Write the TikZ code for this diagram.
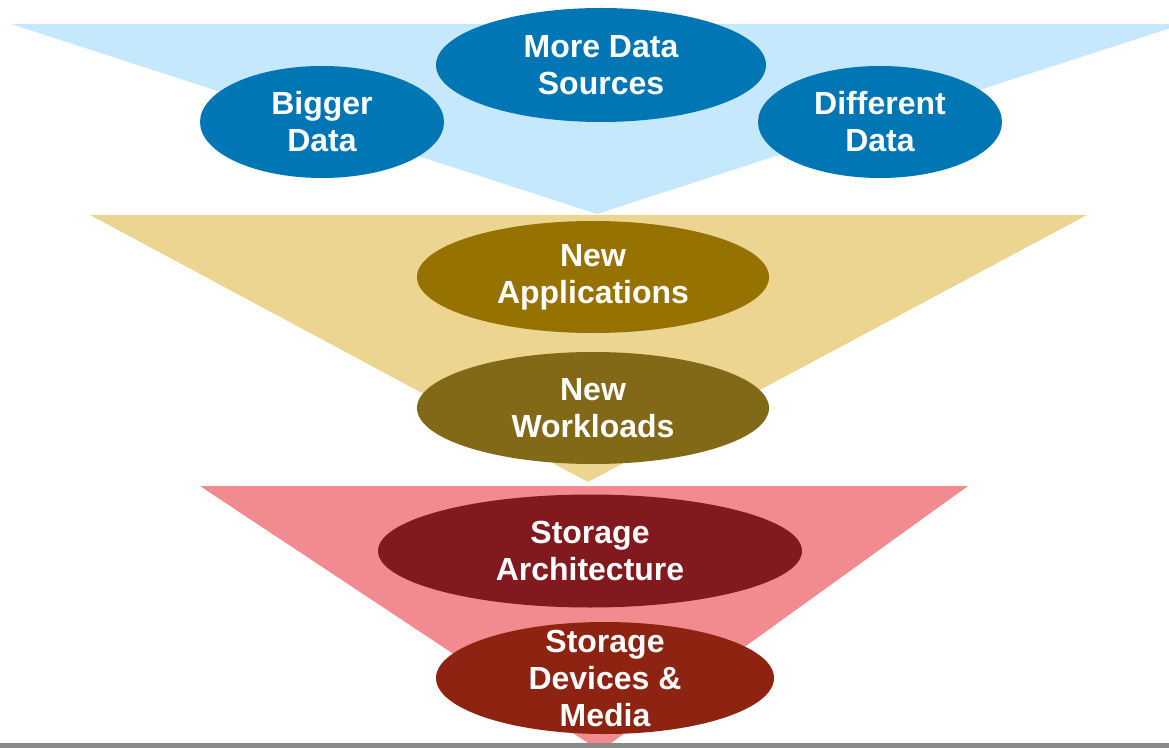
\documentclass[tikz,border=0pt]{standalone}
\usepackage{fontspec}
\setsansfont{Liberation Sans}
\usetikzlibrary{shapes.geometric}

\definecolor{skyfill}{HTML}{C5E8FC}
\definecolor{skyblob}{HTML}{0076B5}
\definecolor{sandfill}{HTML}{ECD591}
\definecolor{appblob}{HTML}{967300}
\definecolor{loadblob}{HTML}{816917}
\definecolor{rosefill}{HTML}{F28B8F}
\definecolor{archblob}{HTML}{82191E}
\definecolor{mediablob}{HTML}{8E2311}
\definecolor{floorgray}{HTML}{898989}

\begin{document}
\begin{tikzpicture}[x=0.75pt,y=-0.75pt,
    bubble/.style={ellipse,inner xsep=0pt,inner ysep=-14pt,text=white,align=center,
      font=\sffamily\bfseries\fontsize{24}{27.75}\selectfont}]
  \useasboundingbox (0,0) rectangle (1169,748);

  % data funnel
  \fill[skyfill] (11,24) -- (1183,24) -- (597,214) -- cycle;
  \node[bubble,fill=skyblob,minimum width=183pt,minimum height=84pt] (bigger) at (322,122) {Bigger\\Data};
  \node[bubble,fill=skyblob,minimum width=247.5pt,minimum height=85.5pt] (sources) at (601,65) {More Data\\Sources};
  \node[bubble,fill=skyblob,minimum width=183pt,minimum height=84pt] (different) at (880,122) {Different\\Data};

  % application funnel
  \fill[sandfill] (90,215) -- (1087,215) -- (588,482) -- cycle;
  \node[bubble,fill=appblob,minimum width=264pt,minimum height=84pt] (apps) at (593,277) {New\\Applications};
  \node[bubble,fill=loadblob,minimum width=264pt,minimum height=84pt] (loads) at (593,408) {New\\Workloads};

  % storage funnel
  \fill[rosefill] (200,486) -- (968,486) -- (600,751) -- cycle;
  \node[bubble,fill=archblob,minimum width=318pt,minimum height=84.75pt] (arch) at (590,551) {Storage\\Architecture};
  \node[bubble,fill=mediablob,minimum width=253.5pt,minimum height=84pt] (media) at (605,678) {Storage\\Devices \&\\Media};

  \fill[floorgray] (0,743) rectangle (1169,748);
\end{tikzpicture}
\end{document}
